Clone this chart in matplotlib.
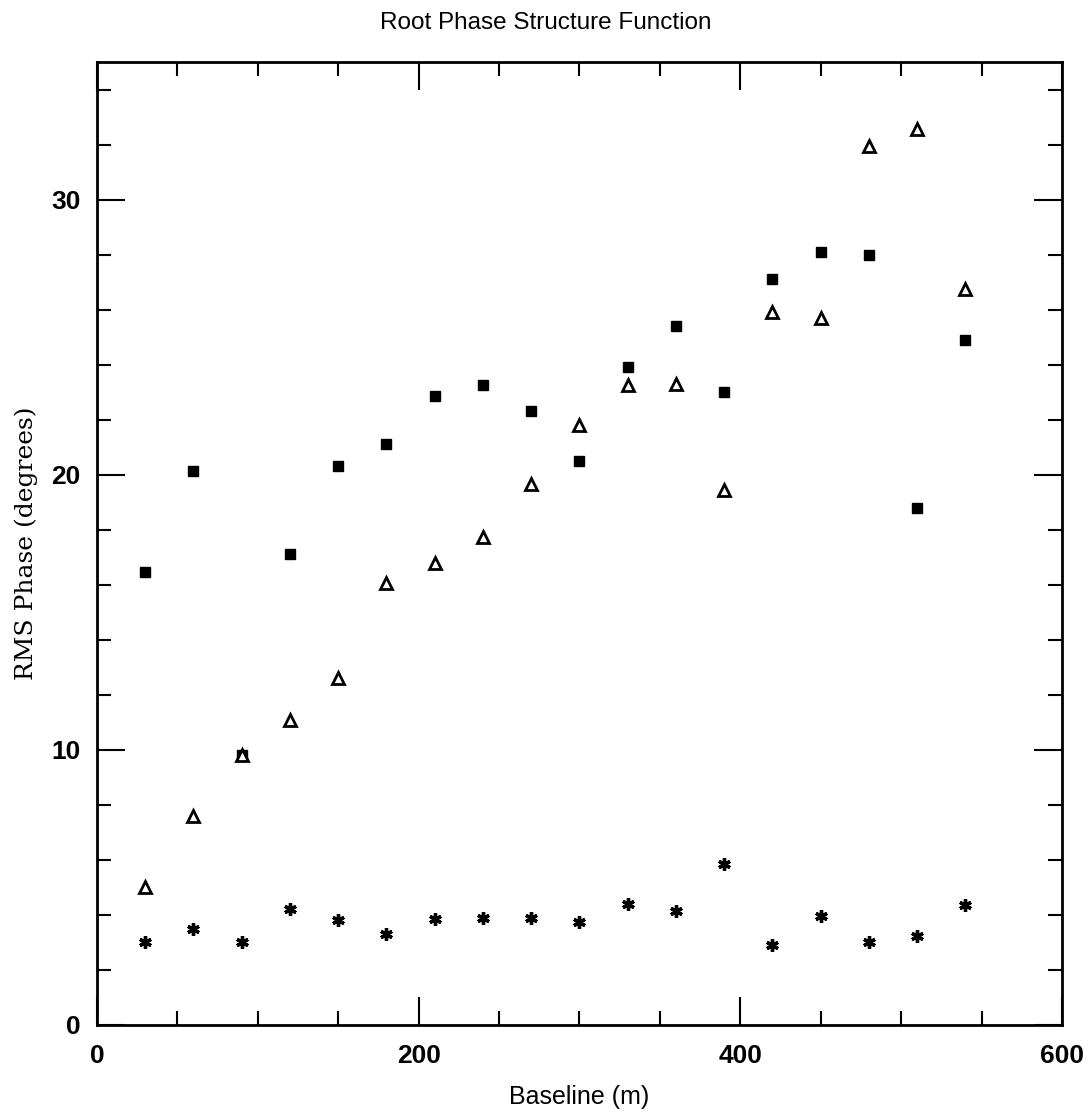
import matplotlib
matplotlib.use("Agg")
import matplotlib.pyplot as plt
from matplotlib.ticker import MultipleLocator

baseline = [30, 60, 90, 120, 150, 180, 210, 240, 270, 300, 330, 360, 390, 420, 450, 480, 510, 540]
squares = [16.45, 20.15, 9.8, 17.1, 20.3, 21.1, 22.85, 23.25, 22.3, 20.5, 23.9, 25.4, 23.0, 27.1, 28.1, 28.0, 18.8, 24.9]
triangles = [5.0, 7.6, 9.8, 11.1, 12.6, 16.05, 16.8, 17.75, 19.65, 21.8, 23.25, 23.3, 19.45, 25.9, 25.7, 31.95, 32.55, 26.75]
stars = [3.0, 3.5, 3.0, 4.2, 3.8, 3.3, 3.85, 3.9, 3.9, 3.75, 4.4, 4.15, 5.85, 2.9, 3.95, 3.0, 3.25, 4.35]

fig = plt.figure(figsize=(10.92, 11.13), dpi=100)
ax = fig.add_axes([0.0888, 0.0791, 0.8837, 0.8652])

ax.plot(baseline, squares, linestyle='none', marker='s', markersize=7.5, color='black')
ax.plot(baseline, triangles, linestyle='none', marker='^', markersize=8, markerfacecolor='white',
        markeredgecolor='black', markeredgewidth=2)
ax.plot(baseline, stars, linestyle='none', marker=(6, 2, 0), markersize=9, color='black', markeredgewidth=2.4)

ax.set_xlim(0, 600)
ax.set_ylim(0, 35)
ax.xaxis.set_major_locator(MultipleLocator(200))
ax.xaxis.set_minor_locator(MultipleLocator(50))
ax.yaxis.set_major_locator(MultipleLocator(10))
ax.yaxis.set_minor_locator(MultipleLocator(2))
ax.tick_params(which='both', direction='in', top=True, right=True, width=1.5, colors='black')
ax.tick_params(which='major', length=20, labelsize=19)
ax.tick_params(axis='y', which='major', pad=12)
ax.tick_params(axis='x', which='major', pad=14)
ax.tick_params(which='minor', length=10)
for lab in ax.get_xticklabels() + ax.get_yticklabels():
    lab.set_fontweight('bold')
    lab.set_family('Liberation Sans')
for s in ax.spines.values():
    s.set_linewidth(2)

ax.set_xlabel('Baseline (m)', fontsize=18, family='Liberation Sans', labelpad=12)
ax.set_ylabel('RMS Phase (degrees)', fontsize=18, family='DejaVu Serif')
ax.yaxis.set_label_coords(-0.061, 0.5)
fig.text(0.5, 0.979, 'Root Phase Structure Function', ha='center', va='center', fontsize=17.5,
         family='Liberation Sans')

fig.savefig('out.png', dpi=100)
